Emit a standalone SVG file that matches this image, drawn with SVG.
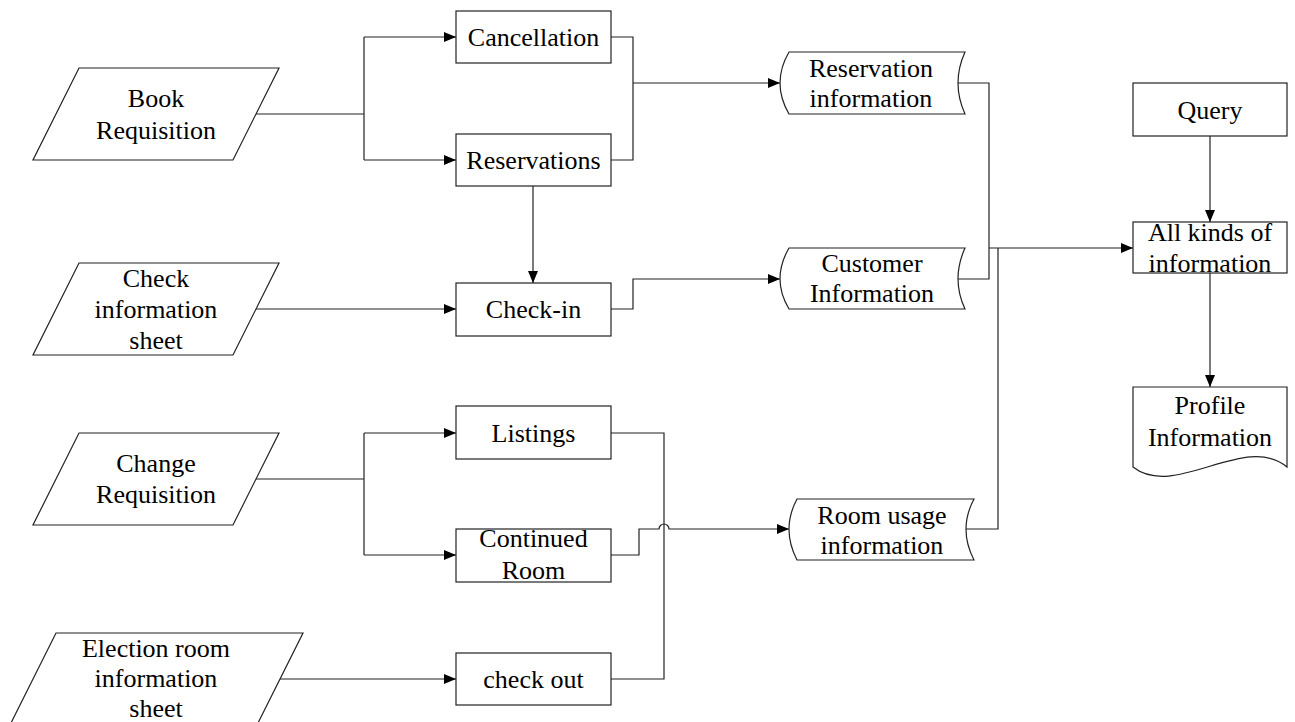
<svg xmlns="http://www.w3.org/2000/svg" width="1295" height="722" viewBox="0 0 1295 722">
<style>
.s{fill:#fff;stroke:#222;stroke-width:1.2}
.c{fill:none;stroke:#222;stroke-width:1.2}
.t{font-family:"Liberation Serif","Times New Roman",serif;font-size:26px;fill:#000;text-anchor:middle}
</style>
<defs>
<marker id="a" markerUnits="userSpaceOnUse" markerWidth="13" markerHeight="11" refX="12" refY="5" orient="auto">
<path d="M0,0 L12,5 L0,10 Z" fill="#000"/>
</marker>
</defs>
<rect width="1295" height="722" fill="#fff"/>
<g id="connectors">
<path class="c" d="M256,114 H364"/>
<path class="c" d="M364,37 V160"/>
<path class="c" d="M364,37 H456" marker-end="url(#a)"/>
<path class="c" d="M364,160 H456" marker-end="url(#a)"/>
<path class="c" d="M611,37 H633 V160 H611"/>
<path class="c" d="M633,83 H780" marker-end="url(#a)"/>
<path class="c" d="M533,186 V283" marker-end="url(#a)"/>
<path class="c" d="M256,309 H456" marker-end="url(#a)"/>
<path class="c" d="M611,309 H633 V279 H780" marker-end="url(#a)"/>
<path class="c" d="M958,83 H989 V279 H958"/>
<path class="c" d="M966,529 H998 V248"/>
<path class="c" d="M989,248 H1133" stroke-width="2" marker-end="url(#a)"/>
<path class="c" d="M256,479 H364"/>
<path class="c" d="M364,433 V555"/>
<path class="c" d="M364,433 H456" marker-end="url(#a)"/>
<path class="c" d="M364,555 H456" marker-end="url(#a)"/>
<path class="c" d="M611,433 H664 V679 H611"/>
<path class="c" d="M611,555 H639 V529 H659 A5,5 0 0 1 669,529 H789" marker-end="url(#a)"/>
<path class="c" d="M280,679 H456" marker-end="url(#a)"/>
<path class="c" d="M1210,136 V222" marker-end="url(#a)"/>
<path class="c" d="M1210,273 V387" marker-end="url(#a)"/>
</g>
<g id="book-requisition">
<polygon class="s" points="79,68 279,68 233,160 33,160"/>
<text class="t" x="156" y="107">Book</text>
<text class="t" x="156" y="139">Requisition</text>
</g>
<g id="check-information-sheet">
<polygon class="s" points="79,263 279,263 233,355 33,355"/>
<text class="t" x="156" y="287">Check</text>
<text class="t" x="156" y="318">information</text>
<text class="t" x="156" y="349">sheet</text>
</g>
<g id="change-requisition">
<polygon class="s" points="79,433 279,433 233,525 33,525"/>
<text class="t" x="156" y="472">Change</text>
<text class="t" x="156" y="503">Requisition</text>
</g>
<g id="election-room-information-sheet">
<polygon class="s" points="56,633 303,633 257,725 10,725"/>
<text class="t" x="156" y="657">Election room</text>
<text class="t" x="156" y="687">information</text>
<text class="t" x="156" y="717">sheet</text>
</g>
<g id="cancellation">
<rect class="s" x="456" y="11" width="155" height="52"/>
<text class="t" x="533.5" y="46">Cancellation</text>
</g>
<g id="reservations">
<rect class="s" x="456" y="134" width="155" height="52"/>
<text class="t" x="533.5" y="169">Reservations</text>
</g>
<g id="check-in">
<rect class="s" x="456" y="283" width="155" height="53"/>
<text class="t" x="533.5" y="318">Check-in</text>
</g>
<g id="listings">
<rect class="s" x="456" y="406" width="155" height="53"/>
<text class="t" x="533.5" y="442">Listings</text>
</g>
<g id="continued-room">
<rect class="s" x="456" y="529" width="155" height="53"/>
<text class="t" x="533.5" y="547">Continued</text>
<text class="t" x="533.5" y="579">Room</text>
</g>
<g id="check-out">
<rect class="s" x="456" y="653" width="155" height="52"/>
<text class="t" x="533.5" y="688">check out</text>
</g>
<g id="reservation-information">
<path class="s" d="M789,52 L965,52 Q951,83 965,114 L789,114 Q771,83 789,52 Z"/>
<text class="t" x="871" y="77">Reservation</text>
<text class="t" x="871" y="107">information</text>
</g>
<g id="customer-information">
<path class="s" d="M789,248 L965,248 Q951,279 965,309 L789,309 Q771,279 789,248 Z"/>
<text class="t" x="872" y="272">Customer</text>
<text class="t" x="872" y="302">Information</text>
</g>
<g id="room-usage-information">
<path class="s" d="M797,499 L974,499 Q958,529 974,560 L797,560 Q781,529 797,499 Z"/>
<text class="t" x="882" y="524">Room usage</text>
<text class="t" x="882" y="554">information</text>
</g>
<g id="query">
<rect class="s" x="1133" y="83" width="154" height="53"/>
<text class="t" x="1210" y="119">Query</text>
</g>
<g id="all-kinds-of-information">
<rect class="s" x="1133" y="222" width="154" height="51"/>
<text class="t" x="1210" y="241">All kinds of</text>
<text class="t" x="1210" y="272">information</text>
</g>
<g id="profile-information">
<path class="s" d="M1133,387 H1287 V467 C1245,432 1175,500 1133,467 Z"/>
<text class="t" x="1210" y="414">Profile</text>
<text class="t" x="1210" y="446">Information</text>
</g>
</svg>
